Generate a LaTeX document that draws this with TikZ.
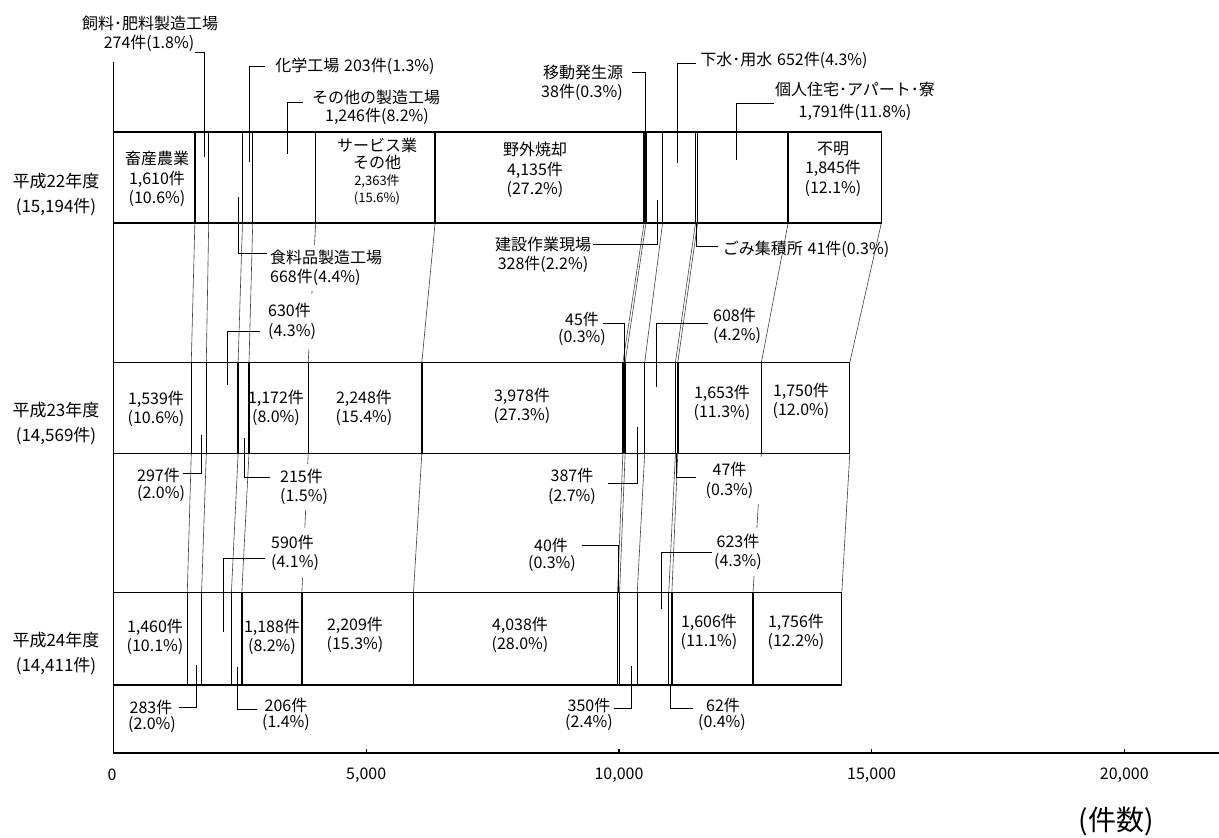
\documentclass[tikz,border=0pt]{standalone}
\usepackage{fontspec}
\setmainfont{Noto Sans CJK JP}
\usetikzlibrary{calc}
\begin{document}
\begin{tikzpicture}[x=1pt,y=-1pt,
  frame/.style={line width=1.4pt},
  link/.style={line width=0.6pt, draw=black!75},
  lead/.style={line width=0.8pt},
  lbl/.style={inner sep=1pt, font=\fontsize{16}{19.5}\selectfont, align=center},
  yr/.style={inner sep=1pt, font=\fontsize{17}{25}\selectfont, align=center},
  ticklbl/.style={inner sep=1pt, font=\fontsize{16}{18}\selectfont},
  mask/.style={fill=white},
]
\useasboundingbox (0,0) rectangle (1219,838);

% ---- boundary coordinates of the three bars ----
\foreach \v [count=\i] in {0,1610,1884,2552,2755,4001,6364,10499,10537,10865,11517,11558,13349,15194}{
  \coordinate (T1-\i) at ({113.5+0.05054*\v},132);
  \coordinate (B1-\i) at ({113.5+0.05054*\v},223);}
\foreach \v [count=\i] in {0,1539,1836,2466,2681,3853,6101,10079,10124,10511,11119,11166,12819,14569}{
  \coordinate (T2-\i) at ({113.5+0.05054*\v},362.5);
  \coordinate (B2-\i) at ({113.5+0.05054*\v},453.5);}
\foreach \v [count=\i] in {0,1460,1743,2333,2539,3727,5936,9974,10014,10364,10987,11049,12655,14411}{
  \coordinate (T3-\i) at ({113.5+0.05054*\v},592.5);
  \coordinate (B3-\i) at ({113.5+0.05054*\v},685);}

% ---- links between bars ----
\foreach \i in {2,...,14}{
  \draw[link] (B1-\i) -- (T2-\i);
  \draw[link] (B2-\i) -- (T3-\i);}

% ---- bars ----
\foreach \r in {1,2,3}{
  \draw[frame] (T\r-1) rectangle (B\r-14);
  \foreach \i in {2,...,13} \draw[frame] (T\r-\i) -- (B\r-\i);}

% ---- axes ----
\coordinate (Otop) at (113.5,62);
\coordinate (O) at (113.5,753);
\coordinate (Xend) at (1219,753);
\draw[frame] (Otop) -- (O) -- (Xend);
\foreach \k in {1,2,3,4} \draw[frame] ({113.5+252.7*\k},753) -- ++(0,-4.5);
\node[ticklbl] (t0) at (112,775) {0};
\node[ticklbl] (t1) at (366.2,775) {5,000};
\node[ticklbl] (t2) at (619,775) {10,000};
\node[ticklbl] (t3) at (871.6,775) {15,000};
\node[ticklbl] (t4) at (1124.3,775) {20,000};
\node[inner sep=1pt, font=\fontsize{28}{30}\selectfont] (unit) at (1116,821) {(件数)};

% ---- year labels ----
\node[yr] (Y1) at (56,194.5) {平成22年度\\(15,194件)};
\node[yr] (Y2) at (56,423.5) {平成23年度\\(14,569件)};
\node[yr] (Y3) at (56,653.5) {平成24年度\\(14,411件)};

% ---- labels inside bars ----
\node[lbl] (N1) at (157,179) {畜産農業\\1,610件\\(10.6\%)};
\node[lbl, font=\fontsize{16}{17}\selectfont] (N2) at (377,171.5) {サービス業\\その他\\{\fontsize{13}{15}\selectfont 2,363件}\\{\fontsize{13}{15}\selectfont (15.6\%)}};
\node[lbl] (N3) at (535,170) {野外焼却\\4,135件\\(27.2\%)};
\node[lbl] (N4) at (833,169) {不明\\1,845件\\(12.1\%)};
\node[lbl] (M1) at (156,409) {1,539件\\(10.6\%)};
\node[lbl] (M2) at (276,408) {1,172件\\(8.0\%)};
\node[lbl] (M3) at (364,408) {2,248件\\(15.4\%)};
\node[lbl] (M4) at (522,406) {3,978件\\(27.3\%)};
\node[lbl] (M5) at (722,403) {1,653件\\(11.3\%)};
\node[lbl] (M6) at (801,401) {1,750件\\(12.0\%)};
\node[lbl] (K1) at (155,637) {1,460件\\(10.1\%)};
\node[lbl] (K2) at (272,637) {1,188件\\(8.2\%)};
\node[lbl] (K3) at (355,635) {2,209件\\(15.3\%)};
\node[lbl] (K4) at (520,635) {4,038件\\(28.0\%)};
\node[lbl] (K5) at (709,632) {1,606件\\(11.1\%)};
\node[lbl] (K6) at (796,632) {1,756件\\(12.2\%)};

% ---- leader targets ----
\coordinate (e1) at (204,157);
\coordinate (e2) at (249,162);
\coordinate (e3) at (287,154);
\coordinate (e4) at ($(T1-8)!0.5!(T1-9)$);
\coordinate (e5) at (677,163);
\coordinate (e6) at (736,160);
\coordinate (e7) at (238,197);
\coordinate (e8) at (227,385);
\coordinate (e9) at (657,200);
\coordinate (e10) at ($(B1-11)!0.5!(B1-12)$);
\coordinate (e11) at ($(T2-8)!0.5!(T2-9)$);
\coordinate (e12) at (656,387);
\coordinate (e13) at (201,435);
\coordinate (e14) at (244,438);
\coordinate (e15) at (223,632);
\coordinate (e16) at (637,427);
\coordinate (e17) at ($(B2-11)!0.5!(B2-12)$);
\coordinate (e18) at ($(T3-8)!0.5!(T3-9)$);
\coordinate (e19) at (661,609);
\coordinate (e20) at (196,665);
\coordinate (e21) at (237,667);
\coordinate (e22) at (631,666);
\coordinate (e23) at ($(B3-11)!0.5!(B3-12)$);

% ---- callout labels ----
\node[lbl] (L1a) at (150,23) {飼料･肥料製造工場};
\node[lbl] (L1b) at (149,43) {274件(1.8\%)};
\node[lbl, inner xsep=10pt] (L2) at (355,66) {化学工場\hspace{.3em}203件(1.3\%)};
\node[lbl, inner xsep=9pt] (L3a) at (376,97) {その他の製造工場};
\node[lbl] (L3b) at (377,116) {1,246件(8.2\%)};
\node[lbl, inner xsep=9pt] (L4a) at (583,72) {移動発生源};
\node[lbl] (L4b) at (582,92) {38件(0.3\%)};
\node[lbl, inner xsep=4pt] (L5) at (784,60) {下水･用水\hspace{.3em}652件(4.3\%)};
\node[lbl, inner xsep=1pt] (L6) at (855,101) {個人住宅･アパート･寮\\[2.5pt]1,791件(11.8\%)};

\node[lbl, mask, align=left, anchor=west, inner xsep=3pt, inner ysep=5pt] (L7) at (267,268) {食料品製造工場\\668件(4.4\%)};
\node[lbl, mask, align=left, anchor=west, inner xsep=8pt, inner ysep=9pt] (L8) at (260,321.5) {630件\\(4.3\%)};
\node[lbl, inner xsep=2pt] (L9a) at (543,244) {建設作業現場};
\node[lbl] (L9b) at (543,264) {328件(2.2\%)};
\node[lbl, inner xsep=5pt] (L10) at (806,249) {ごみ集積所\hspace{.3em}41件(0.3\%)};
\node[lbl, inner xsep=4pt] (L11a) at (582,319) {45件};
\node[lbl] (L11b) at (582,338) {(0.3\%)};
\node[lbl, align=left, anchor=west, inner xsep=5pt] (L12) at (708,326) {608件\\(4.2\%)};

\node[lbl, anchor=west, inner xsep=3pt] (L13a) at (134,475) {297件};
\node[lbl, anchor=west] (L13b) at (136,494) {(2.0\%)};
\node[lbl, mask, align=left, anchor=west, inner xsep=10pt, inner ysep=5pt] (L14) at (270,487) {215件\\(1.5\%)};
\node[lbl, mask, align=left, anchor=west, inner xsep=6pt, inner ysep=7pt] (L15) at (265,553) {590件\\(4.1\%)};
\node[lbl, inner xsep=12pt] (L16) at (572,486.5) {387件\\(2.7\%)};
\node[lbl, mask, inner xsep=9pt, inner ysep=5pt] (L17) at (729.5,480.5) {47件\\(0.3\%)};
\node[lbl, inner xsep=14pt] (L18a) at (551,545) {40件};
\node[lbl] (L18b) at (552,564) {(0.3\%)};
\node[lbl, mask, inner xsep=2pt, inner ysep=6pt] (L19) at (738,552) {623件\\(4.3\%)};

\node[lbl, inner xsep=6pt] (L20a) at (151,707) {283件};
\node[lbl] (L20b) at (152,725) {(2.0\%)};
\node[lbl, inner xsep=7pt] (L21a) at (286,705) {206件};
\node[lbl] (L21b) at (286,723) {(1.4\%)};
\node[lbl, inner xsep=3pt] (L22a) at (589,705) {350件};
\node[lbl] (L22b) at (589,723) {(2.4\%)};
\node[lbl, inner xsep=13pt] (L23a) at (723,705) {62件};
\node[lbl] (L23b) at (722,723) {(0.4\%)};

% ---- leaders ----
\draw[lead] (L1b.south east) -| (e1);
\draw[lead] (L2.west) -| (e2);
\draw[lead] ([yshift=-5pt]L3a.west) -| (e3);
\draw[lead] (L4a.east) -| (e4);
\draw[lead] ([yshift=-3pt]L5.west) -| (e5);
\draw[lead] ([yshift=-2pt]L6.west) -| (e6);
\draw[lead] ([yshift=15pt]L7.west) -| (e7);
\draw[lead] ([yshift=-10pt]L8.west) -| (e8);
\draw[lead] (L9a.east) -| (e9);
\draw[lead] ([yshift=3pt]L10.west) -| (e10);
\draw[lead] ([yshift=-4pt]L11a.east) -| (e11);
\draw[lead] ([yshift=3pt]L12.west) -| (e12);
\draw[lead] ([yshift=2pt]L13a.east) -| (e13);
\draw[lead] ([yshift=10pt]L14.west) -| (e14);
\draw[lead] ([yshift=-5pt]L15.west) -| (e15);
\draw[lead] ([yshift=3.5pt]L16.east) -| (e16);
\draw[lead] ([yshift=3.5pt]L17.west) -| (e17);
\draw[lead] (L18a.east) -| (e18);
\draw[lead] (L19.west) -| (e19);
\draw[lead] (L20a.east) -| (e20);
\draw[lead] ([yshift=-4pt]L21a.west) -| (e21);
\draw[lead] ([yshift=-3pt]L22a.east) -| (e22);
\draw[lead] ([yshift=-3pt]L23a.west) -| (e23);
\end{tikzpicture}
\end{document}
